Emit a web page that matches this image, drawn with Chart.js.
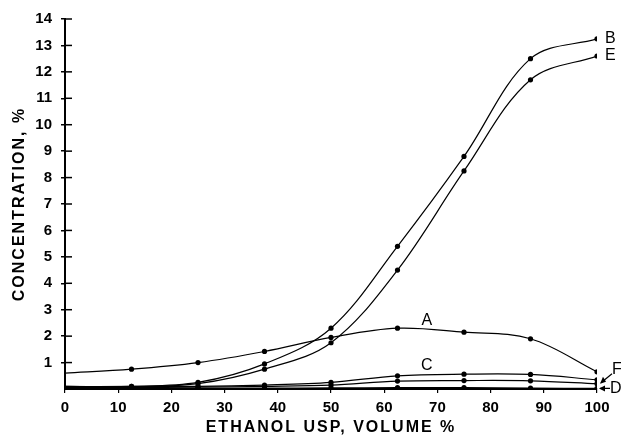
<!DOCTYPE html>
<html>
<head>
<meta charset="utf-8">
<script src="https://cdn.jsdelivr.net/npm/chart.js@4/dist/chart.umd.min.js"></script>
<style>
  html, body { margin: 0; padding: 0; background: #fff; }
  #wrap { width: 621px; height: 435px; position: relative; }
</style>
</head>
<body>
<div id="wrap"><canvas id="chart"></canvas></div>
<script>
// ethanol USP volume % (x = 0 is only the curve start, no marker)
const ethanol = [0, 12.5, 25, 37.5, 50, 62.5, 75, 87.5, 100];

// concentration, %
const curveA = [0.6, 0.75, 1.0, 1.42, 1.95, 2.3, 2.15, 1.9, 0.65];
const curveB = [0.1, 0.1, 0.25, 0.95, 2.3, 5.4, 8.8, 12.5, 13.25];
const curveE = [0.1, 0.08, 0.2, 0.75, 1.75, 4.5, 8.25, 11.7, 12.6];
const curveC = [0.08, 0.1, 0.1, 0.15, 0.25, 0.5, 0.56, 0.55, 0.35];
const curveF = [0.05, 0.06, 0.07, 0.1, 0.15, 0.3, 0.32, 0.31, 0.2];
const curveD = [0.02, 0.02, 0.02, 0.03, 0.04, 0.05, 0.05, 0.03, 0.02];

const yTicks = [1, 2, 3, 4, 5, 6, 7, 8, 9, 10, 11, 12, 13, 14];
const xTicks = [0, 10, 20, 30, 40, 50, 60, 70, 80, 90, 100];

const xTitle = 'ETHANOL USP, VOLUME %';
const yTitle = 'CONCENTRATION, %';

const tickFont = { family: '"Liberation Sans", Arial, sans-serif', size: 15, weight: 'bold' };
const titleFont = 'bold 16px "Liberation Sans", Arial, sans-serif';

function series(label, values) {
    return {
        label: label,
        data: ethanol.map((x, i) => ({ x: x, y: values[i] })),
        borderColor: '#000',
        backgroundColor: '#000',
        borderWidth: 1.2,
        pointRadius: ethanol.map(x => (x === 0 ? 0 : 2.6)),
        pointBorderWidth: 0,
        tension: 0.35,
        fill: false
    };
}

// curve letters: placed next to the curves in data units
const curveLabels = [
    { text: 'B', x: 100, y: curveB[8], dx: 8 },
    { text: 'E', x: 100, y: curveE[8], dx: 8 },
    { text: 'A', x: 68, y: 2.6, dx: 0 },
    { text: 'C', x: 68, y: 0.9, dx: 0 }
];

const letterPlugin = {
    id: 'letters',
    afterDatasetsDraw(chart) {
        const { ctx, scales } = chart;
        ctx.save();
        ctx.fillStyle = '#000';
        ctx.strokeStyle = '#000';
        ctx.font = '16px "Liberation Sans", Arial, sans-serif';
        ctx.textBaseline = 'middle';
        curveLabels.forEach(l => {
            const px = scales.x.getPixelForValue(l.x) + l.dx;
            const py = scales.y.getPixelForValue(l.y);
            ctx.textAlign = l.dx > 0 ? 'left' : 'center';
            ctx.fillText(l.text, px, py);
        });
        // F and D with arrows
        const x100 = scales.x.getPixelForValue(100);
        const fy = scales.y.getPixelForValue(curveF[8]);
        const dy = scales.y.getPixelForValue(curveD[8]);
        ctx.textAlign = 'left';
        ctx.fillText('F', x100 + 15, fy - 14);
        ctx.fillText('D', x100 + 13, dy);
        ctx.lineWidth = 1.2;
        ctx.beginPath();
        ctx.moveTo(x100 + 15, fy - 10);
        ctx.lineTo(x100 + 4, fy - 1);
        ctx.moveTo(x100 + 13, dy);
        ctx.lineTo(x100 + 3, dy);
        ctx.stroke();
        ctx.beginPath();
        ctx.moveTo(x100 + 3, fy);
        ctx.lineTo(x100 + 9, fy - 2);
        ctx.lineTo(x100 + 6, fy - 7);
        ctx.closePath();
        ctx.fill();
        ctx.beginPath();
        ctx.moveTo(x100 + 2, dy);
        ctx.lineTo(x100 + 8, dy - 3);
        ctx.lineTo(x100 + 8, dy + 3);
        ctx.closePath();
        ctx.fill();
        // inner half of the y tick marks
        ctx.lineWidth = 1.5;
        const ax = scales.y.right;
        yTicks.forEach(v => {
            const py = scales.y.getPixelForValue(v);
            ctx.beginPath();
            ctx.moveTo(ax, py);
            ctx.lineTo(ax + 7, py);
            ctx.stroke();
        });
        // axis titles, spaced out like the original lettering
        ctx.font = titleFont;
        ctx.letterSpacing = '2px';
        ctx.textAlign = 'center';
        ctx.fillText(xTitle, (chart.chartArea.left + chart.chartArea.right) / 2, 428);
        ctx.translate(20, (chart.chartArea.top + chart.chartArea.bottom) / 2);
        ctx.rotate(-Math.PI / 2);
        ctx.fillText(yTitle, 0, 0);
        ctx.restore();
    }
};

new Chart(document.getElementById('chart').getContext('2d'), {
    type: 'line',
    data: {
        datasets: [
            series('A', curveA),
            series('B', curveB),
            series('E', curveE),
            series('C', curveC),
            series('F', curveF),
            series('D', curveD)
        ]
    },
    options: {
        responsive: true,
        maintainAspectRatio: false,
        animation: false,
        layout: { padding: { top: 19, right: 24, left: 0, bottom: 0 } },
        plugins: {
            legend: { display: false },
            tooltip: { enabled: false }
        },
        scales: {
            x: {
                type: 'linear',
                min: 0,
                max: 100,
                afterFit(scale) { scale.height = 46; },
                afterBuildTicks(scale) { scale.ticks = xTicks.map(v => ({ value: v })); },
                border: { color: '#000', width: 2 },
                grid: { drawOnChartArea: false, color: '#000', tickLength: 4, lineWidth: 1.2 },
                ticks: { color: '#000', font: tickFont, padding: 6, maxRotation: 0 }
            },
            y: {
                type: 'linear',
                min: 0,
                max: 14,
                afterFit(scale) { scale.width = 65; },
                afterBuildTicks(scale) { scale.ticks = yTicks.map(v => ({ value: v })); },
                border: { color: '#000', width: 2 },
                grid: { drawOnChartArea: false, color: '#000', tickLength: 4, lineWidth: 1.5 },
                ticks: { color: '#000', font: tickFont, padding: 9 }
            }
        }
    },
    plugins: [letterPlugin]
});
</script>
</body>
</html>
